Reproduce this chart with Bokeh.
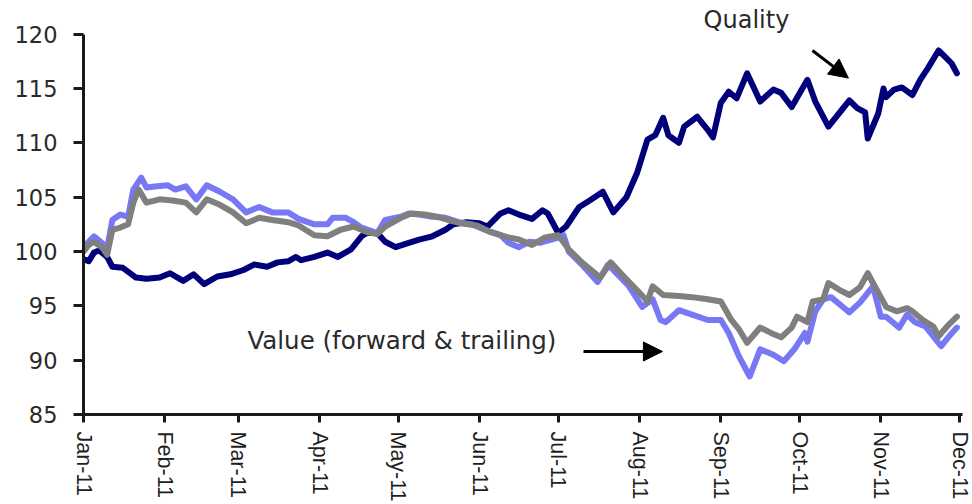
import pandas as pd
from bokeh.plotting import figure
from bokeh.models import (Range1d, FixedTicker, DatetimeTickFormatter, Arrow,
                          NormalHead, Label)
from bokeh.embed import file_html
from bokeh.resources import INLINE

# ---------------- data ----------------
QUALITY_DATES = [
    "2011-01-01", "2011-01-03", "2011-01-05", "2011-01-07", "2011-01-10", "2011-01-12",
    "2011-01-16", "2011-01-21", "2011-01-25", "2011-01-30", "2011-02-03", "2011-02-08",
    "2011-02-12", "2011-02-16", "2011-02-21", "2011-02-26", "2011-03-03", "2011-03-07",
    "2011-03-12", "2011-03-16", "2011-03-20", "2011-03-23", "2011-03-25", "2011-03-30",
    "2011-04-04", "2011-04-08", "2011-04-13", "2011-04-17", "2011-04-19", "2011-04-23",
    "2011-04-26", "2011-04-30", "2011-05-05", "2011-05-09", "2011-05-14", "2011-05-19",
    "2011-05-22", "2011-05-27", "2011-06-01", "2011-06-04", "2011-06-09", "2011-06-12",
    "2011-06-16", "2011-06-21", "2011-06-25", "2011-06-27", "2011-07-01", "2011-07-04",
    "2011-07-09", "2011-07-13", "2011-07-18", "2011-07-22", "2011-07-27", "2011-07-31",
    "2011-08-04", "2011-08-07", "2011-08-10", "2011-08-12", "2011-08-16", "2011-08-18",
    "2011-08-23", "2011-08-27", "2011-08-29", "2011-09-01", "2011-09-04", "2011-09-07",
    "2011-09-11", "2011-09-16", "2011-09-21", "2011-09-24", "2011-09-28", "2011-10-04",
    "2011-10-07", "2011-10-12", "2011-10-17", "2011-10-20", "2011-10-23", "2011-10-26",
    "2011-10-27", "2011-10-31", "2011-11-02", "2011-11-03", "2011-11-06", "2011-11-09",
    "2011-11-13", "2011-11-16", "2011-11-19", "2011-11-23", "2011-11-26", "2011-11-28",
    "2011-11-30",
]
QUALITY_VALUES = [
    99.3, 99.1, 99.9, 100.1, 99.5, 98.6,
    98.5, 97.6, 97.5, 97.6, 98.0, 97.3,
    97.9, 97.0, 97.7, 97.9, 98.3, 98.8,
    98.6, 99.0, 99.1, 99.5, 99.2, 99.5,
    99.9, 99.5, 100.2, 101.4, 101.7, 101.7,
    100.9, 100.4, 100.8, 101.1, 101.4, 102.0,
    102.5, 102.7, 102.6, 102.3, 103.5, 103.8,
    103.4, 103.0, 103.8, 103.5, 101.7, 102.3,
    104.1, 104.7, 105.5, 103.6, 105.0, 107.2,
    110.3, 110.7, 112.3, 110.7, 110.0, 111.5,
    112.4, 111.2, 110.5, 113.7, 114.7, 114.1,
    116.4, 113.8, 114.9, 114.6, 113.3, 115.8,
    113.8, 111.5, 113.0, 113.9, 113.2, 112.8,
    110.4, 112.7, 115.0, 114.2, 114.9, 115.1,
    114.4, 115.8, 116.9, 118.5, 117.8, 117.3,
    116.4,
]

FORWARD_DATES = [
    "2011-01-01", "2011-01-03", "2011-01-05", "2011-01-08", "2011-01-10", "2011-01-12",
    "2011-01-15", "2011-01-18", "2011-01-20", "2011-01-23", "2011-01-25", "2011-01-29",
    "2011-02-02", "2011-02-05", "2011-02-09", "2011-02-13", "2011-02-17", "2011-02-22",
    "2011-02-27", "2011-03-04", "2011-03-09", "2011-03-14", "2011-03-20", "2011-03-24",
    "2011-03-30", "2011-04-04", "2011-04-06", "2011-04-11", "2011-04-14", "2011-04-17",
    "2011-04-23", "2011-04-26", "2011-05-02", "2011-05-05", "2011-05-09", "2011-05-14",
    "2011-05-19", "2011-05-24", "2011-05-29", "2011-06-03", "2011-06-09", "2011-06-12",
    "2011-06-16", "2011-06-20", "2011-06-24", "2011-06-30", "2011-07-03", "2011-07-05",
    "2011-07-10", "2011-07-16", "2011-07-20", "2011-07-28", "2011-08-02", "2011-08-06",
    "2011-08-09", "2011-08-11", "2011-08-16", "2011-08-21", "2011-08-27", "2011-09-01",
    "2011-09-04", "2011-09-08", "2011-09-12", "2011-09-16", "2011-09-21", "2011-09-25",
    "2011-09-29", "2011-10-03", "2011-10-04", "2011-10-07", "2011-10-10", "2011-10-13",
    "2011-10-18", "2011-10-20", "2011-10-24", "2011-10-27", "2011-10-29", "2011-11-01",
    "2011-11-03", "2011-11-08", "2011-11-11", "2011-11-14", "2011-11-18", "2011-11-22",
    "2011-11-24", "2011-11-27", "2011-11-30",
]
FORWARD_VALUES = [
    100.3, 100.9, 101.4, 100.8, 100.3, 102.9,
    103.4, 103.2, 105.7, 106.8, 105.9, 106.0,
    106.1, 105.7, 106.0, 104.8, 106.1, 105.5,
    104.8, 103.6, 104.1, 103.6, 103.6, 103.0,
    102.5, 102.5, 103.1, 103.1, 102.7, 102.2,
    101.7, 102.9, 103.2, 103.5, 103.4, 103.2,
    103.1, 102.7, 102.5, 102.0, 101.5, 100.8,
    100.4, 100.9, 100.8, 101.2, 101.5, 100.0,
    98.8, 97.2, 98.8, 96.8, 94.9, 95.6,
    93.7, 93.5, 94.6, 94.2, 93.7, 93.7,
    92.5, 90.3, 88.5, 91.0, 90.5, 89.9,
    91.0, 92.5, 91.7, 94.5, 95.6, 95.8,
    94.8, 94.4, 95.3, 96.2, 96.8, 94.0,
    94.0, 93.0, 94.2, 93.5, 93.1, 91.9,
    91.3, 92.2, 93.0,
]

TRAILING_DATES = [
    "2011-01-01", "2011-01-03", "2011-01-05", "2011-01-08", "2011-01-10", "2011-01-12",
    "2011-01-15", "2011-01-18", "2011-01-20", "2011-01-22", "2011-01-25", "2011-01-30",
    "2011-02-04", "2011-02-09", "2011-02-13", "2011-02-17", "2011-02-22", "2011-02-27",
    "2011-03-04", "2011-03-09", "2011-03-14", "2011-03-20", "2011-03-24", "2011-03-30",
    "2011-04-04", "2011-04-09", "2011-04-14", "2011-04-19", "2011-04-23", "2011-04-26",
    "2011-05-02", "2011-05-06", "2011-05-11", "2011-05-16", "2011-05-20", "2011-05-25",
    "2011-05-31", "2011-06-05", "2011-06-09", "2011-06-12", "2011-06-16", "2011-06-21",
    "2011-06-26", "2011-07-01", "2011-07-05", "2011-07-10", "2011-07-17", "2011-07-21",
    "2011-07-26", "2011-08-01", "2011-08-04", "2011-08-06", "2011-08-10", "2011-08-16",
    "2011-08-21", "2011-08-27", "2011-09-01", "2011-09-05", "2011-09-08", "2011-09-11",
    "2011-09-16", "2011-09-21", "2011-09-24", "2011-09-28", "2011-09-30", "2011-10-04",
    "2011-10-06", "2011-10-10", "2011-10-12", "2011-10-16", "2011-10-20", "2011-10-24",
    "2011-10-27", "2011-10-29", "2011-11-01", "2011-11-03", "2011-11-07", "2011-11-11",
    "2011-11-13", "2011-11-17", "2011-11-21", "2011-11-23", "2011-11-27", "2011-11-30",
]
TRAILING_VALUES = [
    100.0, 100.6, 100.9, 100.4, 99.7, 102.0,
    102.2, 102.5, 104.5, 105.7, 104.5, 104.8,
    104.7, 104.5, 103.6, 104.8, 104.3, 103.6,
    102.6, 103.1, 102.9, 102.7, 102.4, 101.5,
    101.4, 102.0, 102.3, 101.8, 101.6, 102.3,
    103.1, 103.5, 103.4, 103.2, 102.9, 102.6,
    102.4, 101.8, 101.5, 101.3, 101.1, 100.6,
    101.3, 101.5, 100.2, 99.0, 97.6, 99.0,
    97.7, 96.2, 95.4, 96.8, 96.0, 95.9,
    95.8, 95.6, 95.4, 93.7, 92.8, 91.6,
    93.0, 92.4, 92.1, 93.0, 94.0, 93.5,
    95.4, 95.6, 97.1, 96.5, 96.0, 96.7,
    98.0, 97.1, 95.8, 94.9, 94.5, 94.8,
    94.5, 93.7, 93.1, 92.2, 93.3, 94.0,
]

MONTH_TICKS = ["2011-01-01", "2011-02-01", "2011-03-01", "2011-04-01", "2011-05-01",
               "2011-06-01", "2011-07-01", "2011-08-01", "2011-09-01", "2011-10-01",
               "2011-11-01", "2011-12-01"]
MONTH_LABELS = ["Jan-11", "Feb-11", "Mar-11", "Apr-11", "May-11", "Jun-11",
                "Jul-11", "Aug-11", "Sep-11", "Oct-11", "Nov-11", "Dec-11"]
Y_TICKS = [85, 90, 95, 100, 105, 110, 115, 120]

QUALITY_TEXT = "Quality"
VALUE_TEXT = "Value (forward & trailing)"


def ms(d):
    return pd.Timestamp(d).value / 1e6


# ---------------- figure ----------------
p = figure(width=972, height=504, x_axis_type="datetime",
           x_range=Range1d(ms("2011-01-01"), ms("2011-12-02 03:00")),
           y_range=Range1d(85, 123.1),
           output_backend="svg", toolbar_location=None,
           min_border_left=83, min_border_right=10, min_border_top=0,
           min_border_bottom=89)
p.grid.visible = False
p.outline_line_color = None
p.background_fill_color = "white"
p.border_fill_color = "white"

NAVY = "#00007a"
LIGHT = "#7878f5"
GRAY = "#7f7f7f"

p.line(pd.to_datetime(QUALITY_DATES), QUALITY_VALUES, line_color=NAVY,
       line_width=6, line_join="round", line_cap="round")
p.line(pd.to_datetime(FORWARD_DATES), FORWARD_VALUES, line_color=LIGHT,
       line_width=6, line_join="round", line_cap="round")
p.line(pd.to_datetime(TRAILING_DATES), TRAILING_VALUES, line_color=GRAY,
       line_width=6, line_join="round", line_cap="round")

# ---------------- axes ----------------
ya = p.yaxis[0]
ya.ticker = FixedTicker(ticks=Y_TICKS)
ya.bounds = (85, 120)
ya.axis_line_width = 3
ya.axis_line_color = "#1a1a1a"
ya.major_tick_line_width = 3
ya.major_tick_line_color = "#1a1a1a"
ya.major_tick_out = 10
ya.major_tick_in = 0
ya.minor_tick_line_color = None
ya.major_label_text_font = "DejaVu Sans"
ya.major_label_text_font_size = "22.5px"
ya.major_label_text_color = "#2a2a2a"
ya.major_label_standoff = 16

tick_ms = [ms(d) for d in MONTH_TICKS]
xa = p.xaxis[0]
xa.ticker = FixedTicker(ticks=tick_ms)
xa.formatter = DatetimeTickFormatter(days="%b-%y", months="%b-%y", years="%b-%y")
xa.major_label_overrides = {t: lab for t, lab in zip(tick_ms, MONTH_LABELS)}
xa.major_label_orientation = "vertical"
xa.axis_line_width = 3
xa.axis_line_color = "#1a1a1a"
xa.major_tick_line_width = 3
xa.major_tick_line_color = "#1a1a1a"
xa.major_tick_out = 8
xa.major_tick_in = 0
xa.minor_tick_line_color = None
xa.major_label_text_font = "Liberation Sans"
xa.major_label_text_font_size = "21.5px"
xa.major_label_text_color = "#1e1e1e"
xa.major_label_standoff = 9

# ---------------- annotations ----------------
p.add_layout(Label(x=ms("2011-08-25 10:00"), y=121.35, text=QUALITY_TEXT,
                   text_font="DejaVu Sans", text_font_size="24px",
                   text_color="#2a2a2a", text_baseline="alphabetic"))
p.add_layout(Label(x=ms("2011-03-04 12:00"), y=91.85, text=VALUE_TEXT,
                   text_font="DejaVu Sans", text_font_size="24.5px",
                   text_color="#2a2a2a", text_baseline="alphabetic"))

p.add_layout(Arrow(end=NormalHead(size=19, fill_color="black", line_color="black"),
                   x_start=ms("2011-10-05 22:00"), y_start=118.5,
                   x_end=ms("2011-10-19 15:00"), y_end=115.96,
                   line_width=3, line_color="black"))
p.add_layout(Arrow(end=NormalHead(size=19, fill_color="black", line_color="black"),
                   x_start=ms("2011-07-10 15:00"), y_start=90.8,
                   x_end=ms("2011-08-09 17:00"), y_end=90.8,
                   line_width=3, line_color="black"))

open("out.html", "w").write(file_html(p, INLINE))
